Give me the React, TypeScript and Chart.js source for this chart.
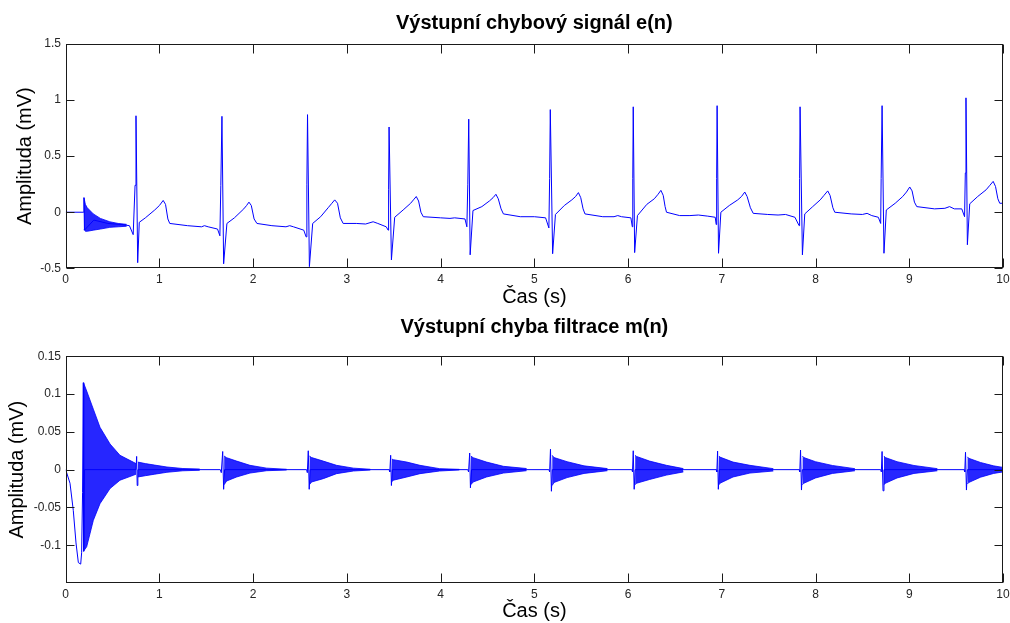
import { useEffect, useRef } from 'react';
import { Chart, registerables } from 'chart.js';

Chart.register(...registerables);

const FONT = "'Liberation Sans', Arial, Helvetica, sans-serif";
const BLUE = '#0000ff';
const BAND_FILL = 'rgba(0, 0, 255, 0.85)';
const TICK_COLOR = '#262626';

// Axis ticks
const timeTicks = [0, 1, 2, 3, 4, 5, 6, 7, 8, 9, 10];
const ecgTicks = [-0.5, 0, 0.5, 1, 1.5];
const errTicks = [-0.1, -0.05, 0, 0.05, 0.1, 0.15];

// e(n): output error signal (time in s, amplitude in mV), one row per beat
const ecgTime = [
  0, 0.19, 0.195, 0.2, 0.3, 0.45, 0.6, 0.68,
  0.72, 0.74, 0.75, 0.768, 0.785, 0.85, 0.95, 1.0, 1.04, 1.065, 1.09, 1.11, 1.3, 1.45, 1.48, 1.52, 1.62,
  1.645, 1.655, 1.667, 1.685, 1.72, 1.8, 1.9, 1.93, 1.955, 1.98, 2.01, 2.04, 2.2, 2.35, 2.39, 2.43, 2.54,
  2.565, 2.573, 2.58, 2.6, 2.635, 2.72, 2.8, 2.84, 2.87, 2.9, 2.93, 2.96, 3.1, 3.2, 3.28, 3.33, 3.42,
  3.44, 3.445, 3.45, 3.475, 3.51, 3.6, 3.68, 3.71, 3.74, 3.765, 3.79, 3.815, 4.0, 4.1, 4.15, 4.26,
  4.28, 4.29, 4.3, 4.315, 4.345, 4.44, 4.52, 4.56, 4.59, 4.615, 4.645, 4.67, 4.85, 5.0, 5.12,
  5.155, 5.163, 5.17, 5.195, 5.225, 5.32, 5.4, 5.44, 5.47, 5.495, 5.52, 5.54, 5.73, 5.85, 5.89, 5.93, 6.03,
  6.045, 6.05, 6.055, 6.07, 6.1, 6.2, 6.28, 6.32, 6.35, 6.375, 6.395, 6.41, 6.55, 6.66, 6.75, 6.85, 6.93,
  6.94, 6.945, 6.95, 6.965, 6.99, 7.08, 7.17, 7.21, 7.245, 7.27, 7.305, 7.335, 7.49, 7.6, 7.68, 7.78,
  7.825, 7.83, 7.835, 7.86, 7.885, 7.97, 8.05, 8.09, 8.13, 8.155, 8.185, 8.205, 8.38, 8.5, 8.55, 8.6, 8.67,
  8.695, 8.7, 8.71, 8.73, 8.755, 8.85, 8.93, 8.97, 9.005, 9.03, 9.055, 9.08, 9.27, 9.38, 9.43, 9.48, 9.56,
  9.59, 9.598, 9.605, 9.62, 9.645, 9.73, 9.82, 9.86, 9.895, 9.92, 9.945, 9.965, 10,
];
const ecgValue = [
  0, 0, 0.13, -0.16, -0.07, -0.1, -0.11, -0.12,
  -0.2, 0.24, 0.86, -0.45, -0.09, -0.05, 0.02, 0.06, 0.105, 0.07, -0.06, -0.1, -0.12, -0.13, -0.12, -0.13, -0.15,
  -0.21, 0.24, 0.855, -0.46, -0.1, -0.05, 0.03, 0.06, 0.09, 0.06, -0.06, -0.1, -0.12, -0.13, -0.12, -0.13, -0.16,
  -0.22, 0.25, 0.87, -0.485, -0.1, -0.04, 0.04, 0.08, 0.11, 0.08, -0.05, -0.1, -0.1, -0.105, -0.085, -0.1, -0.13,
  -0.16, 0.2, 0.76, -0.425, -0.045, 0.02, 0.08, 0.11, 0.14, 0.1, 0.0, -0.04, -0.05, -0.055, -0.05, -0.06,
  -0.13, 0.25, 0.83, -0.38, 0.015, 0.05, 0.1, 0.13, 0.16, 0.12, 0.03, -0.015, -0.04, -0.04, -0.05,
  -0.14, 0.3, 0.915, -0.37, -0.02, 0.06, 0.11, 0.14, 0.175, 0.13, 0.03, -0.015, -0.04, -0.04, -0.03, -0.04, -0.05,
  -0.13, 0.3, 0.94, -0.36, -0.03, 0.07, 0.12, 0.16, 0.195, 0.15, 0.05, 0.0, -0.03, -0.03, -0.025, -0.035, -0.045,
  -0.11, 0.3, 0.95, -0.366, 0.0, 0.06, 0.11, 0.14, 0.18, 0.14, 0.04, -0.01, -0.02, -0.025, -0.02, -0.045,
  -0.12, 0.3, 0.94, -0.38, -0.015, 0.05, 0.11, 0.15, 0.19, 0.15, 0.04, 0.0, -0.015, -0.02, -0.01, -0.03, -0.045,
  -0.1, 0.3, 0.95, -0.366, 0.02, 0.08, 0.14, 0.18, 0.225, 0.19, 0.09, 0.05, 0.03, 0.035, 0.05, 0.03, 0.03,
  -0.04, 0.35, 1.02, -0.29, 0.075, 0.14, 0.2, 0.24, 0.275, 0.23, 0.12, 0.08, 0.08,
];

// e(n): envelope of the initial adaptation ringing
const settleTime = [0.195, 0.21, 0.23, 0.295, 0.37, 0.47, 0.56, 0.65];
const settleHigh = [0.13, 0.07, 0.04, -0.015, -0.055, -0.085, -0.1, -0.108];
const settleLow = [-0.15, -0.17, -0.17, -0.16, -0.15, -0.135, -0.13, -0.125];

// m(n): filtering error, baseline trace with the spikes at each beat
const errTime = [
  0, 0.046, 0.081, 0.11, 0.135, 0.16, 0.17, 0.18, 0.188, 0.192, 0.2,
  0.75, 0.757, 0.763, 0.77,
  1.65, 1.66, 1.675, 1.685, 1.695,
  2.57, 2.578, 2.588, 2.598, 2.608,
  3.45, 3.458, 3.467, 3.475, 3.485,
  4.29, 4.298, 4.31, 4.318, 4.33,
  5.155, 5.163, 5.172, 5.182, 5.192,
  6.04, 6.047, 6.055, 6.065, 6.075,
  6.94, 6.947, 6.955, 6.963, 6.973,
  7.825, 7.832, 7.84, 7.85, 7.86,
  8.695, 8.702, 8.71, 8.72, 8.73,
  9.585, 9.592, 9.6, 9.61, 9.62, 10,
];
const errValue = [
  0, -0.018, -0.054, -0.097, -0.123, -0.125, -0.11, -0.03, 0.115, -0.108, 0,
  0, 0.0175, -0.021, 0,
  0, -0.004, 0.024, -0.026, 0,
  0, -0.004, 0.025, -0.026, 0,
  0, -0.003, 0.019, -0.021, 0,
  0, -0.003, 0.022, -0.024, 0,
  0, -0.003, 0.027, -0.0286, 0,
  0, -0.003, 0.025, -0.026, 0,
  0, -0.003, 0.0245, -0.026, 0,
  0, -0.003, 0.026, -0.027, 0,
  0, -0.003, 0.024, -0.028, 0,
  0, -0.003, 0.023, -0.027, 0, 0,
];

// m(n): envelopes of the decaying ringing after each beat
const ringTimes = [
  [0.19, 0.224, 0.295, 0.366, 0.473, 0.579, 0.72, 0.75],
  [0.77, 0.85, 0.95, 1.08, 1.25, 1.43],
  [1.69, 1.717, 1.824, 1.966, 2.144, 2.357],
  [2.6, 2.624, 2.748, 2.89, 3.07, 3.25],
  [3.48, 3.495, 3.64, 3.78, 3.99, 4.2],
  [4.322, 4.348, 4.49, 4.67, 4.917],
  [5.19, 5.21, 5.35, 5.53, 5.78],
  [6.075, 6.09, 6.23, 6.41, 6.59],
  [6.97, 6.98, 7.12, 7.3, 7.55],
  [7.86, 7.875, 8.0, 8.18, 8.42],
  [8.73, 8.745, 8.87, 9.05, 9.3],
  [9.62, 9.635, 9.76, 9.9, 10],
];
const ringHigh = [
  [0.115, 0.104, 0.08, 0.056, 0.034, 0.019, 0.01, 0.008],
  [0.01, 0.008, 0.006, 0.0035, 0.0015, 0.0008],
  [0.018, 0.0158, 0.0113, 0.0057, 0.002, 0.0005],
  [0.018, 0.016, 0.0113, 0.0057, 0.002, 0.0005],
  [0.014, 0.0132, 0.01, 0.0057, 0.0013, 0.0004],
  [0.018, 0.0158, 0.01, 0.0044, 0.0015],
  [0.019, 0.016, 0.0105, 0.005, 0.0014],
  [0.019, 0.0175, 0.0113, 0.0057, 0.0014],
  [0.018, 0.0166, 0.01, 0.0057, 0.0013],
  [0.018, 0.016, 0.0105, 0.0055, 0.0013],
  [0.018, 0.016, 0.0105, 0.0055, 0.0013],
  [0.017, 0.015, 0.0095, 0.005, 0.003],
];
const ringLow = [
  [-0.108, -0.102, -0.067, -0.045, -0.025, -0.014, -0.0075, -0.006],
  [-0.0097, -0.008, -0.006, -0.0035, -0.0015, -0.0008],
  [-0.02, -0.015, -0.0097, -0.0045, -0.0014, -0.0005],
  [-0.02, -0.0163, -0.0119, -0.0053, -0.0018, -0.0005],
  [-0.016, -0.014, -0.0097, -0.0053, -0.0018, -0.0004],
  [-0.02, -0.0163, -0.0097, -0.0045, -0.0014],
  [-0.021, -0.017, -0.0105, -0.005, -0.0014],
  [-0.02, -0.018, -0.013, -0.0072, -0.003],
  [-0.02, -0.018, -0.0097, -0.0045, -0.0018],
  [-0.02, -0.018, -0.011, -0.005, -0.0015],
  [-0.02, -0.018, -0.011, -0.005, -0.0015],
  [-0.019, -0.017, -0.01, -0.005, -0.003],
];

type Band = { t: number[]; hi: number[]; lo: number[] };

type PanelSpec = {
  title: string;
  lineT: number[];
  lineV: number[];
  bands: Band[];
  yMin: number;
  yMax: number;
  yTicks: number[];
  titlePad: { top: number; bottom: number };
  xAxisHeight: number;
  xTitlePad: number;
  yTitlePad: number;
};

const pts = (t: number[], v: number[]) => t.map((x, i) => ({ x, y: v[i] }));

// MATLAB-style box with inward ticks on all four sides
const boxTicks = {
  id: 'boxTicks',
  afterDraw(chart: any) {
    const { ctx, chartArea: a, scales } = chart;
    const x = scales.x;
    const y = scales.y;
    const L = Math.round(a.left) + 0.5;
    const R = Math.round(a.right) - 0.5;
    const T = Math.round(a.top) + 0.5;
    const B = Math.round(a.bottom) - 0.5;
    ctx.save();
    ctx.strokeStyle = '#1a1a1a';
    ctx.lineWidth = 1;
    ctx.beginPath();
    for (const tk of x.ticks) {
      const px = Math.round(x.getPixelForValue(tk.value)) + 0.5;
      ctx.moveTo(px, B);
      ctx.lineTo(px, B - 9);
      ctx.moveTo(px, T);
      ctx.lineTo(px, T + 9);
    }
    for (const tk of y.ticks) {
      const py = Math.round(y.getPixelForValue(tk.value)) + 0.5;
      ctx.moveTo(L, py);
      ctx.lineTo(L + 8, py);
      ctx.moveTo(R, py);
      ctx.lineTo(R - 8, py);
    }
    ctx.stroke();
    ctx.strokeRect(L, T, R - L, B - T);
    ctx.restore();
  },
};

function makePanel(canvas: HTMLCanvasElement, s: PanelSpec) {
  const datasets: any[] = [
    {
      data: pts(s.lineT, s.lineV),
      borderColor: BLUE,
      borderWidth: 1,
      pointRadius: 0,
      fill: false,
      tension: 0,
    },
  ];
  s.bands.forEach((b) => {
    datasets.push({
      data: pts(b.t, b.hi),
      borderColor: BLUE,
      borderWidth: 0.8,
      pointRadius: 0,
      fill: false,
      tension: 0,
    });
    datasets.push({
      data: pts(b.t, b.lo),
      borderColor: BLUE,
      borderWidth: 0.8,
      pointRadius: 0,
      fill: '-1',
      backgroundColor: BAND_FILL,
      tension: 0,
    });
  });

  return new Chart(canvas, {
    type: 'line',
    data: { datasets },
    plugins: [boxTicks],
    options: {
      responsive: false,
      animation: false,
      events: [],
      layout: { padding: { left: 0, right: 7, top: 0, bottom: 0 } },
      plugins: {
        legend: { display: false },
        tooltip: { enabled: false },
        title: {
          display: true,
          fullSize: false,
          text: s.title,
          color: '#000',
          font: { family: FONT, size: 20, weight: 'bold' },
          padding: s.titlePad,
        },
      },
      scales: {
        x: {
          type: 'linear',
          min: 0,
          max: 10,
          grid: { display: false, drawTicks: false },
          border: { display: false },
          afterBuildTicks: (sc: any) => {
            sc.ticks = timeTicks.map((value) => ({ value }));
          },
          afterFit: (sc: any) => {
            sc.height = s.xAxisHeight;
            sc.paddingRight = 0;
          },
          ticks: {
            padding: 4.5,
            color: TICK_COLOR,
            font: { family: FONT, size: 12 },
            maxRotation: 0,
            autoSkip: false,
            callback: (v: any) => String(v),
          },
          title: {
            display: true,
            text: 'Čas (s)',
            color: '#000',
            font: { family: FONT, size: 20 },
            padding: { top: 0, bottom: s.xTitlePad },
          },
        },
        y: {
          type: 'linear',
          min: s.yMin,
          max: s.yMax,
          grid: { display: false, drawTicks: false },
          border: { display: false },
          afterBuildTicks: (sc: any) => {
            sc.ticks = s.yTicks.map((value) => ({ value }));
          },
          afterFit: (sc: any) => {
            sc.width = 65.7;
          },
          ticks: {
            padding: 4.7,
            color: TICK_COLOR,
            font: { family: FONT, size: 12 },
            autoSkip: false,
            callback: (v: any) => String(v),
          },
          title: {
            display: true,
            text: 'Amplituda (mV)',
            color: '#000',
            font: { family: FONT, size: 20 },
            padding: { top: s.yTitlePad, bottom: 0 },
          },
        },
      },
    } as any,
  });
}

export default function App() {
  const topRef = useRef<HTMLCanvasElement>(null);
  const bottomRef = useRef<HTMLCanvasElement>(null);

  useEffect(() => {
    const upper = makePanel(topRef.current!, {
      title: 'Výstupní chybový signál e(n)',
      lineT: ecgTime,
      lineV: ecgValue,
      bands: [{ t: settleTime, hi: settleHigh, lo: settleLow }],
      yMin: -0.5,
      yMax: 1.5,
      yTicks: ecgTicks,
      titlePad: { top: 11.6, bottom: 8.4 },
      xAxisHeight: 42.7,
      xTitlePad: 2,
      yTitlePad: 13,
    });
    const lower = makePanel(bottomRef.current!, {
      title: 'Výstupní chyba filtrace m(n)',
      lineT: errTime,
      lineV: errValue,
      bands: ringTimes.map((t, i) => ({ t, hi: ringHigh[i], lo: ringLow[i] })),
      yMin: -0.15,
      yMax: 0.15,
      yTicks: errTicks,
      titlePad: { top: 4, bottom: 17.3 },
      xAxisHeight: 40,
      xTitlePad: 0,
      yTitlePad: 5.7,
    });
    return () => {
      upper.destroy();
      lower.destroy();
    };
  }, []);

  return (
    <div style={{ position: 'absolute', left: 0, top: 0, width: 1010, height: 623, background: '#fff' }}>
      <canvas ref={topRef} width={1010} height={311} style={{ position: 'absolute', left: 0, top: 0 }} />
      <canvas ref={bottomRef} width={1010} height={312} style={{ position: 'absolute', left: 0, top: 311 }} />
    </div>
  );
}
